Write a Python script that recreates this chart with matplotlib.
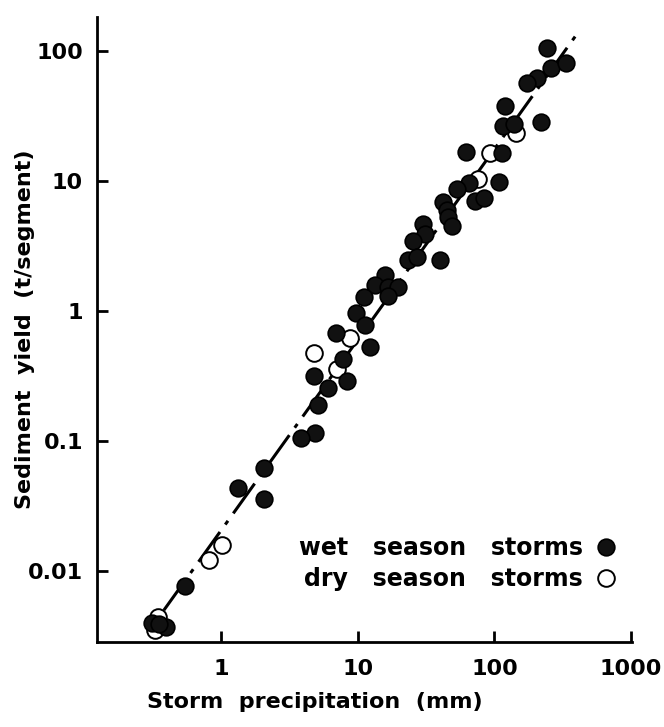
import matplotlib
matplotlib.use("Agg")
import matplotlib.pyplot as plt

# ====== Data ======
wet_precip = [241, 258, 333, 204, 172, 120, 115, 140, 218, 62, 113, 65.5, 53.5, 109,
              72.5, 84, 42, 45, 46, 49, 30, 31, 25.4, 23.3, 27, 40, 15.8, 13.3, 16.6,
              19.7, 16.6, 11.1, 9.7, 11.3, 6.9, 12.3, 7.8, 8.3, 4.75, 6.0, 5.08, 4.9,
              3.81, 2.04, 1.33, 2.07, 0.544, 0.311, 0.394, 0.35]
wet_yield = [107, 75, 81, 62, 57, 38, 26.5, 27.4, 28.4, 16.7, 16.4, 9.7, 8.7, 9.8,
             7.0, 7.5, 6.9, 6.0, 5.3, 4.5, 4.7, 3.9, 3.5, 2.5, 2.6, 2.47, 1.89, 1.58, 1.53,
             1.53, 1.30, 1.28, 0.965, 0.78, 0.68, 0.53, 0.43, 0.29, 0.32, 0.256, 0.189, 0.115,
             0.105, 0.062, 0.044, 0.0358, 0.0077, 0.0040, 0.0037, 0.0039]

dry_precip = [143, 93.5, 76, 8.7, 4.75, 7.0, 1.02, 0.816, 0.344, 0.327]
dry_yield = [23.4, 16.4, 10.4, 0.62, 0.48, 0.358, 0.0158, 0.0122, 0.0044, 0.0035]

# fitted line (end points)
fit_precip = [0.38, 420]
fit_yield = [0.005, 145]

x_ticks = [1, 10, 100, 1000]
x_labels = ["1", "10", "100", "1000"]
y_ticks = [0.01, 0.1, 1, 10, 100]
y_labels = ["0.01", "0.1", "1", "10", "100"]

plt.rcParams["font.family"] = ["DejaVu Sans"]
plt.rcParams["font.weight"] = "bold"
plt.rcParams["axes.labelweight"] = "bold"

fig = plt.figure(figsize=(6.64, 7.27), dpi=100)
ax = fig.add_axes([0.146, 0.117, 0.806, 0.860])

ax.plot(fit_precip, fit_yield, color="black", lw=2.2,
        linestyle=(0, (12, 3, 1.5, 3)), zorder=1)
ax.plot(wet_precip, wet_yield, "o", ms=12, mfc="#111111", mec="black", mew=1.2,
        label="wet   season   storms", zorder=3)
ax.plot(dry_precip, dry_yield, "o", ms=12, mfc="white", mec="black", mew=1.4,
        label="dry   season   storms", zorder=2)

ax.set_xscale("log")
ax.set_yscale("log")
ax.set_xlim(0.123, 1020)
ax.set_ylim(0.00285, 185)

ax.set_xticks(x_ticks)
ax.set_xticklabels(x_labels)
ax.set_yticks(y_ticks)
ax.set_yticklabels(y_labels)
ax.minorticks_off()
ax.tick_params(direction="in", length=8, width=2, labelsize=16)
ax.tick_params(axis="x", pad=12)
ax.tick_params(axis="y", pad=10)

for s in ["top", "right"]:
    ax.spines[s].set_visible(False)
for s in ["left", "bottom"]:
    ax.spines[s].set_linewidth(2)

ax.set_xlabel("Storm  precipitation  (mm)", fontsize=16)
ax.set_ylabel("Sediment  yield  (t/segment)", fontsize=16)
ax.xaxis.set_label_coords(0.407, -0.08)
ax.yaxis.set_label_coords(-0.116, 0.5)

ax.legend(loc="lower right", bbox_to_anchor=(1.0, 0.055), frameon=False,
          markerfirst=False, fontsize=17, handlelength=0.8, handletextpad=0.6,
          labelspacing=0.3, borderaxespad=0.3)

fig.savefig("out.png", dpi=100)
